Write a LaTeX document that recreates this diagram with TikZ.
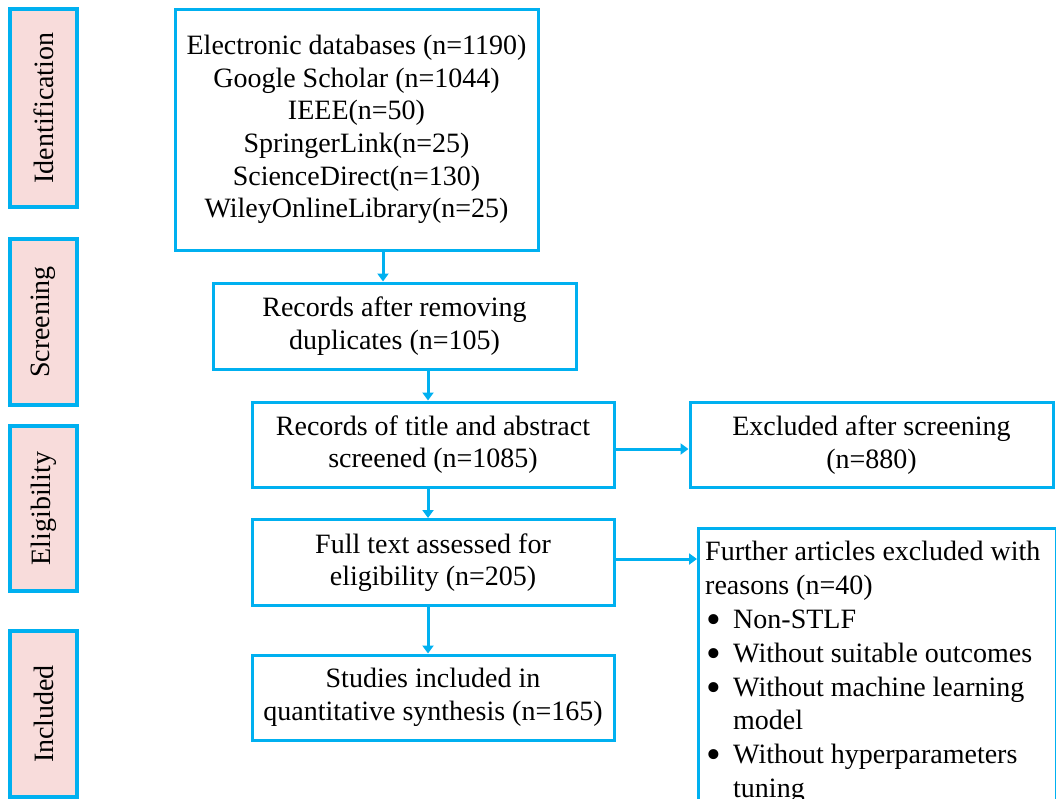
\documentclass[tikz,border=0pt]{standalone}
\usepackage{fontspec}
\setmainfont{Liberation Serif}
\usetikzlibrary{arrows.meta}
\definecolor{frameblue}{HTML}{00B0F0}
\definecolor{stagepink}{HTML}{F8DCDB}
\newcommand{\bigbullet}{\smash{\raisebox{-5pt}{\scalebox{1.5}{\textbullet}}}}
\begin{document}
\begin{tikzpicture}[x=1pt,y=-1pt,
  stagebox/.style={draw=frameblue, fill=stagepink, line width=3.2pt,
    minimum width=67pt, inner sep=0pt, font=\fontsize{28}{32}\selectfont},
  flowbox/.style={draw=frameblue, line width=3pt, inner sep=0pt,
    align=center, font=\fontsize{28}{32.6}\selectfont},
  link/.style={draw=frameblue, line width=3pt,
    -{Triangle[length=8pt,width=11pt]}}]
\useasboundingbox (0,0) rectangle (1056,798);
\clip (0,0) rectangle (1056,798);

% stage labels on the left
\node[stagebox, minimum height=198pt] (ident) at (43.5,108) {\rotatebox{90}{Identification}};
\node[stagebox, minimum height=166pt] (screen) at (43.5,322) {\rotatebox{90}{Screening}};
\node[stagebox, minimum height=165pt] (elig) at (43.5,508.5) {\rotatebox{90}{Eligibility}};
\node[stagebox, minimum height=166pt] (incl) at (43.5,714) {\rotatebox{90}{Included}};

% main flow
\node[flowbox, minimum width=363pt, minimum height=241pt] (sources) at (356.5,129.5)
  {Electronic databases (n=1190)\\Google Scholar (n=1044)\\IEEE(n=50)\\SpringerLink(n=25)\\ScienceDirect(n=130)\\WileyOnlineLibrary(n=25)};
\node[flowbox, minimum width=363pt, minimum height=86pt] (dedup) at (394.5,326)
  {Records after removing\\duplicates (n=105)};
\node[flowbox, minimum width=362pt, minimum height=85pt] (screened) at (433,444.5)
  {Records of title and abstract\\screened (n=1085)};
\node[flowbox, minimum width=362pt, minimum height=86pt] (fulltext) at (433,562.5)
  {Full text assessed for\\eligibility (n=205)};
\node[flowbox, minimum width=362pt, minimum height=85pt] (included) at (433,697.5)
  {Studies included in\\quantitative synthesis (n=165)};

% exclusions
\node[flowbox, minimum width=363pt, minimum height=85pt] (excluded) at (871.5,445)
  {Excluded after screening\\(n=880)};
\node[draw=frameblue, line width=3pt, inner sep=0pt, anchor=north west,
  minimum width=358pt, minimum height=320pt] (further) at (697,527) {};
\node[anchor=north west, inner sep=0pt, align=left,
  font=\fontsize{28}{33.8}\selectfont] (reasons) at (705,537)
  {\begin{tabular}{@{}p{28pt}@{}l@{}}
   \multicolumn{2}{@{}l@{}}{Further articles excluded with}\\
   \multicolumn{2}{@{}l@{}}{reasons (n=40)}\\
   \hspace{1pt}\bigbullet & Non-STLF\\
   \hspace{1pt}\bigbullet & Without suitable outcomes\\
   \hspace{1pt}\bigbullet & Without machine learning\\
                  & model\\
   \hspace{1pt}\bigbullet & Without hyperparameters\\
                  & tuning
   \end{tabular}};

% connectors
\draw[link] ([xshift=26.5pt]sources.south) -- ([xshift=26.5pt]sources.south |- dedup.north);
\draw[link] ([xshift=-5pt]screened.north |- dedup.south) -- ([xshift=-5pt]screened.north);
\draw[link] ([xshift=-5pt]screened.south) -- ([xshift=-5pt]fulltext.north);
\draw[link] ([xshift=-5pt]fulltext.south) -- ([xshift=-5pt]included.north);
\draw[link] ([yshift=-4.5pt]screened.east) -- ([yshift=-4.5pt]screened.east -| excluded.west);
\draw[link] ([yshift=3.5pt]fulltext.east) -- ([yshift=3.5pt]fulltext.east -| further.west);
\end{tikzpicture}
\end{document}
